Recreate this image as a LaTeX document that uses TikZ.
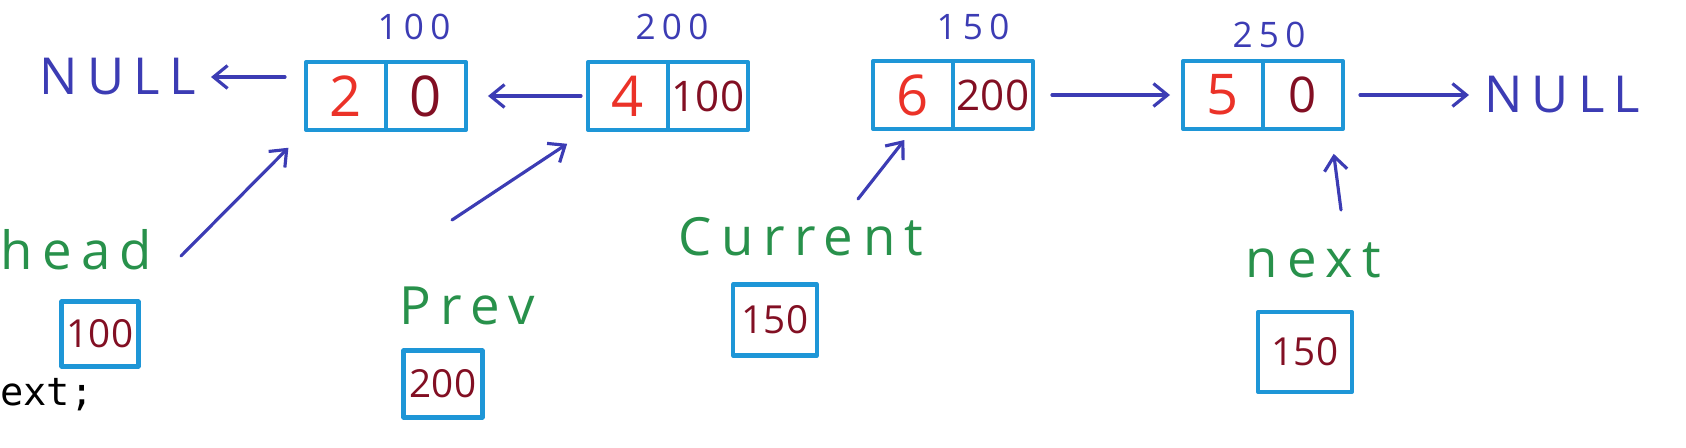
\documentclass[tikz,border=0pt]{standalone}
\usepackage{fontspec}
\setmainfont{Open Sans}
\newfontfamily\hand[LetterSpace=18]{Open Sans}
\newfontfamily\digits{Open Sans}
\setmonofont{DejaVu Sans Mono}
\usetikzlibrary{arrows.meta}
\definecolor{cellblue}{RGB}{30,150,215}
\definecolor{inkblue}{RGB}{60,60,180}
\definecolor{inkred}{RGB}{235,50,40}
\definecolor{inkmaroon}{RGB}{130,15,35}
\definecolor{inkgreen}{RGB}{40,145,75}
\newcommand{\handfont}[1]{\fontsize{#1}{#1}\hand}
\newcommand{\numfont}[1]{\fontsize{#1}{#1}\digits}
\begin{document}
\begin{tikzpicture}[x=0.02cm, y=-0.02cm, line join=round, line cap=round,
  >={Straight Barb[length=8pt,width=13pt]},
  cell/.style={draw=cellblue, line width=2.3pt, outer sep=0pt, inner sep=0pt,
    minimum width=1.6cm, minimum height=1.36cm, font=\numfont{32}},
  data/.style={cell, text=inkred},
  link/.style={cell, text=inkmaroon},
  addr/.style={text=inkblue, font=\handfont{20}},
  null/.style={text=inkblue, inner sep=0pt, font=\handfont{29}},
  var/.style={text=inkgreen, inner sep=0pt, font=\handfont{30}},
  varbox/.style={draw=cellblue, line width=2.3pt, inner sep=0pt, text=inkmaroon, font=\numfont{22}},
  ptr/.style={->, draw=inkblue, line width=1.8pt}]
\useasboundingbox (0,0) rectangle (1686,447);
% list nodes
\node[data] (d1) at (346,96) {2};
\node[link, anchor=west] (p1) at (d1.east) {0};
\node[data] (d2) at (628,96) {4};
\node[link, anchor=west, font=\numfont{24}] (p2) at (d2.east) {100};
\node[data] (d3) at (913,95) {6};
\node[link, anchor=west, font=\numfont{24}] (p3) at (d3.east) {200};
\node[data] (d4) at (1223,95) {5};
\node[link, anchor=west, font=\numfont{28}] (p4) at (d4.east) {0};
% addresses
\node[addr] (a1) at (414,27) {100};
\node[addr] (a2) at (672,27) {200};
\node[addr] (a3) at (973,27) {150};
\node[addr] (a4) at (1269,35) {250};
\node[null, anchor=east] (nullL) at (196,77) {NULL};
\node[null, anchor=west] (nullR) at (1484,95) {NULL};
% links
\draw[ptr, shorten <=0.42cm, shorten >=0.3cm] (d1.west |- nullL.east) -- (nullL.east);
\draw[ptr, shorten <=0.14cm, shorten >=0.44cm] (d2.west) -- (p1.east);
\draw[ptr, shorten <=0.38cm, shorten >=0.26cm] (p3.east) -- (d4.west);
\draw[ptr, shorten <=0.34cm, shorten >=0.3cm] (p4.east) -- (nullR.west);
% pointer variables
\node[var, anchor=west] (head) at (0,250) {head};
\node[var] (prev) at (467,306) {Prev};
\node[var] (cur) at (801,237) {Current};
\node[var] (nxt) at (1313,260) {next};
\node[varbox, minimum width=1.54cm, minimum height=1.3cm] (headval) at (100,334) {100};
\node[varbox, minimum width=1.58cm, minimum height=1.34cm] (prevval) at (443,384) {200};
\node[varbox, minimum width=1.68cm, minimum height=1.42cm] (curval) at (775,320) {150};
\node[varbox, minimum width=1.88cm, minimum height=1.6cm] (nxtval) at (1305,352) {150};
\coordinate (headtail) at (181,256);
\coordinate (prevtail) at (452,220);
\coordinate (curtail) at (858,199);
\coordinate (nxttail) at (1341,210);
\draw[ptr, shorten >=0.5cm] (headtail) -- (d1.south west);
\draw[ptr, shorten >=0.5cm] (prevtail) -- (d2.south west);
\draw[ptr, shorten >=0.28cm] (curtail) -- (d3.south);
\draw[ptr, shorten >=0.5cm] (nxttail) -- ([xshift=-0.25cm]p4.south east);
% code fragment
\node[anchor=base west, inner sep=0pt, font=\fontsize{22}{22}\ttfamily] (code) at (0,405) {ext;};
\end{tikzpicture}
\end{document}
